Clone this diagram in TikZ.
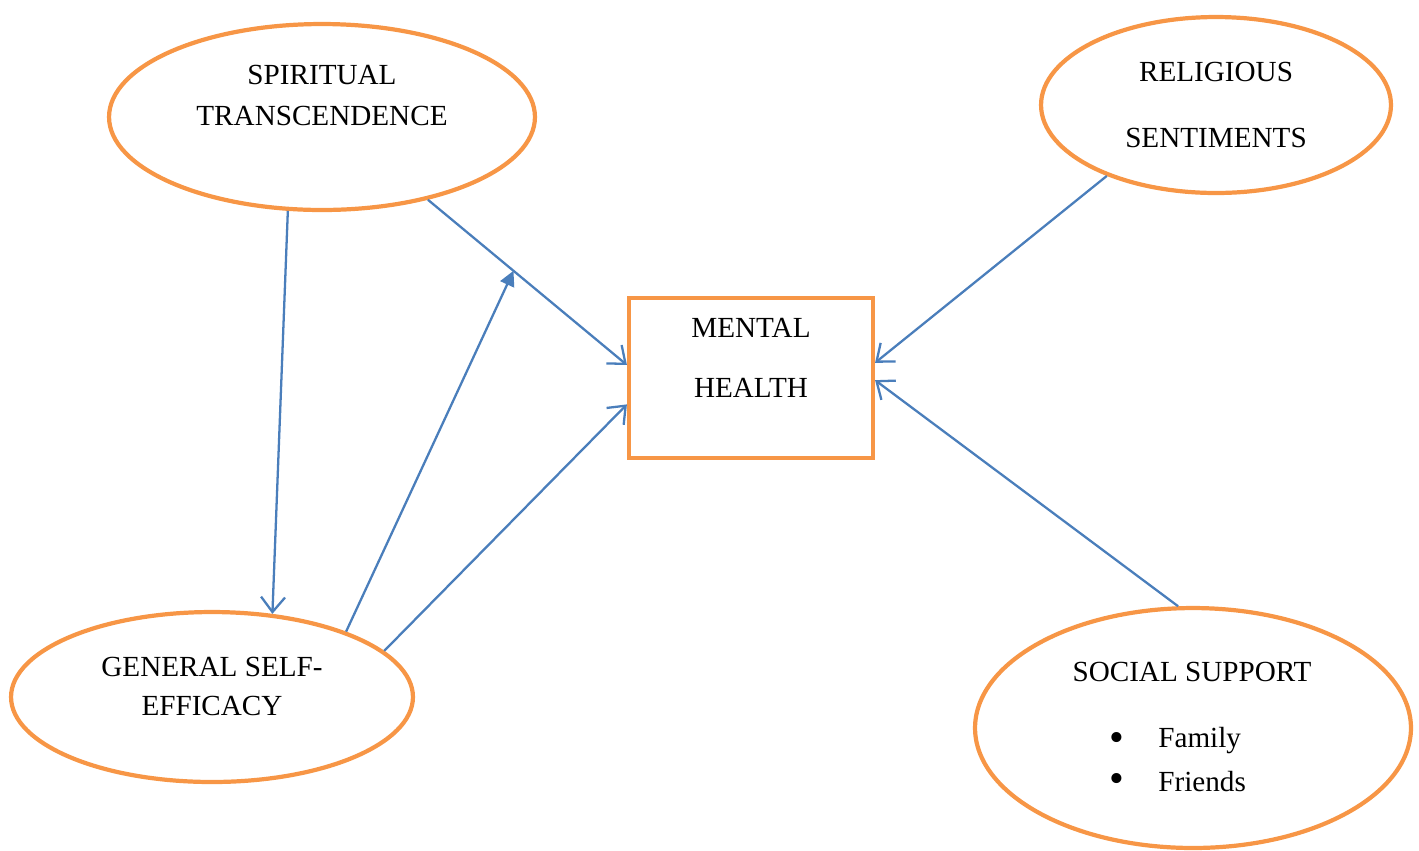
\documentclass[tikz,border=0pt]{standalone}
\usepackage{fontspec}
\setmainfont{Liberation Serif}
\usetikzlibrary{shapes.geometric,arrows.meta,calc}
\definecolor{konorange}{HTML}{F79646}
\definecolor{konblue}{HTML}{4A7EBB}
\begin{document}
\begin{tikzpicture}[x=0.02cm,y=-0.02cm,
  factor/.style={ellipse,draw=konorange,line width=2.4pt,inner sep=0pt},
  salida/.style={rectangle,draw=konorange,line width=2.4pt,inner sep=0pt,
    minimum width=4.88cm,minimum height=3.2cm},
  etiqueta/.style={font=\fontsize{16.6}{19}\selectfont,inner sep=0pt},
  punto/.style={font=\fontsize{24}{24}\selectfont,inner sep=0pt},
  flecha/.style={draw=konblue,line width=1.3pt,
    -{Straight Barb[length=0.3cm,width=0.48cm,line width=1.3pt]}},
  flechallena/.style={draw=konblue,line width=1.3pt,
    -{Triangle[length=0.3cm,width=0.3cm]}}]
\useasboundingbox (0,0) rectangle (1419,850);

\node[factor,minimum width=8.52cm,minimum height=3.72cm] (sp) at (322,117) {};
\node[factor,minimum width=7cm,minimum height=3.52cm] (rs) at (1216,105) {};
\node[factor,minimum width=8.04cm,minimum height=3.4cm] (ge) at (212,697) {};
\node[factor,minimum width=8.72cm,minimum height=4.8cm] (ss) at (1193,728) {};
\node[salida] (mh) at (751,378) {};

\node[etiqueta] (sp1) at (322,75) {SPIRITUAL};
\node[etiqueta] (sp2) at (322,116) {TRANSCENDENCE};
\node[etiqueta] (rs1) at (1216,72) {RELIGIOUS};
\node[etiqueta] (rs2) at (1216,138) {SENTIMENTS};
\node[etiqueta] (mh1) at (751,328) {MENTAL};
\node[etiqueta] (mh2) at (751,388) {HEALTH};
\node[etiqueta] (ge1) at (212,667) {GENERAL SELF-};
\node[etiqueta] (ge2) at (212,706) {EFFICACY};
\node[etiqueta] (ss1) at (1192,672) {SOCIAL SUPPORT};
\node[punto] (b1) at (1117,742) {\textbullet};
\node[punto] (b2) at (1117,783) {\textbullet};
\node[etiqueta,anchor=west] (ss2) at (1158,741) {Family};
\node[etiqueta,anchor=west] (ss3) at (1158,782) {Friends};

% caminos
\draw[flecha] (sp.-110) -- (ge.54);
\draw[flecha] (sp.-38) -- (mh.174) coordinate[pos=0.43] (medio);
\draw[flechallena] (ge.26.5) -- (medio);
\draw[flecha] (ge.15.4) -- (mh.192.5);
\draw[flecha] (rs.213) -- (mh.7);
\draw[flecha] (ss.97.5) -- (mh.-1.4);
\end{tikzpicture}
\end{document}
